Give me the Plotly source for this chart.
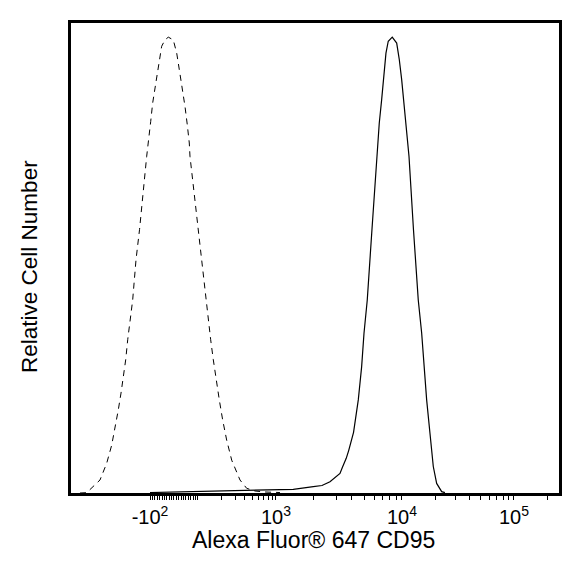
import numpy as np
import plotly.graph_objects as go

# Histogram data on a 0-1000 display-channel scale (biexponential display)
unstained_ch = [18.4, 32.2, 59.4, 73.1, 83.4, 90.2, 96.9, 102.5, 107.2, 112.1, 116.2, 120.9,
                126.4, 133.2, 140.4, 155.1, 158.4, 163.3, 167.4, 172.1, 177.6, 185.8, 192.6,
                199.4, 209.6, 216.6, 221.9, 228.9, 233.6, 238.3, 242.4, 243.8, 260.2, 276.0,
                281.3, 286.2, 291.6, 297.1, 303.9, 310.8, 319.0, 329.3, 346.3, 360.0, 377.0,
                397.5, 428.2]
unstained_count = [0.0, 0.07, 2.85, 6.5, 10.5, 14.2, 18.2, 21.9, 25.5, 29.2, 33.6, 37.9,
                   42.3, 51.1, 57.7, 73.8, 77.4, 81.4, 85.5, 88.8, 93.1, 97.9, 99.3,
                   99.9, 99.3, 96.4, 92.8, 88.4, 84.7, 80.7, 76.7, 73.8, 57.7, 42.3,
                   37.9, 33.6, 29.2, 24.8, 20.4, 16.0, 11.6, 7.2, 2.85, 1.03, 0.44,
                   0.22, 0.1]

cd95_ch = [161.9, 264.3, 366.8, 455.5, 496.5, 514.3, 530.7, 541.0, 551.2, 556.0, 564.0,
           569.0, 575.0, 579.0, 588.7, 595.6, 600.4, 607.1, 616.7, 627.6, 631.7, 636.6,
           641.3, 645.4, 650.1, 658.3, 667.4, 672.7, 677.6, 682.3, 687.8, 692.6, 701.8,
           711.6, 718.6, 723.3, 728.8, 735.6, 742.4, 749.3, 759.6, 766.3]
cd95_count = [0.1, 0.33, 0.48, 0.81, 1.38, 1.64, 2.48, 3.3, 4.3, 5.6, 7.6,
              9.3, 11.6, 13.3, 20.4, 27.7, 35.0, 42.3, 57.7, 75.2, 81.1, 86.2,
              91.3, 96.4, 99.0, 99.9, 98.6, 95.0, 90.6, 85.5, 79.6, 73.8, 57.7,
              42.3, 35.0, 27.7, 20.4, 13.1, 5.8, 2.1, 0.3, 0.07]

# Axis decades: fluorescence value, label, display channel
tick_values = [-100, 1000, 10000, 100000]
tick_text = ["-10<sup>2</sup>", "10<sup>3</sup>", "10<sup>4</sup>", "10<sup>5</sup>"]
tick_channel = [161.9, 420.0, 678.2, 907.7]
ch_plus100 = 260.2

# minor ticks
minor = []
minor += list(np.linspace(tick_channel[0], ch_plus100, 21))
for k in range(2, 10):
    minor.append(ch_plus100 + (tick_channel[1] - ch_plus100) * np.log10(k))
    minor.append(tick_channel[1] + (tick_channel[2] - tick_channel[1]) * np.log10(k))
    minor.append(tick_channel[2] + (tick_channel[3] - tick_channel[2]) * np.log10(k))
    m = tick_channel[3] + (tick_channel[3] - tick_channel[2]) * np.log10(k)
    if m < 1000:
        minor.append(m)
minor = sorted(v for v in minor if v not in tick_channel)

FONT = "Liberation Sans, Arial, sans-serif"

fig = go.Figure()
fig.add_trace(go.Scatter(x=unstained_ch, y=unstained_count, mode="lines",
                         line=dict(color="black", width=1, dash="6px,5px"),
                         showlegend=False, hoverinfo="skip"))
fig.add_trace(go.Scatter(x=cd95_ch, y=cd95_count, mode="lines",
                         line=dict(color="black", width=1.2),
                         showlegend=False, hoverinfo="skip"))

fig.update_layout(
    width=577, height=577,
    margin=dict(l=71, r=18, t=23, b=84),
    paper_bgcolor="white", plot_bgcolor="white",
    font=dict(family=FONT, color="black"),
    xaxis=dict(range=[0, 1000], showgrid=False, zeroline=False,
               showline=True, linecolor="black", linewidth=3, mirror=True,
               tickmode="array", tickvals=tick_channel, ticktext=tick_text,
               ticks="outside", ticklen=4, tickwidth=1, tickcolor="black",
               tickfont=dict(size=20, family=FONT, color="black"),
               minor=dict(tickmode="array", tickvals=minor, ticks="outside",
                          ticklen=4, tickwidth=1, tickcolor="black")),
    yaxis=dict(range=[0, 103], showgrid=False, zeroline=False,
               showline=True, linecolor="black", linewidth=3, mirror=True,
               showticklabels=False, ticks=""),
    annotations=[
        dict(text="Alexa Fluor® 647 CD95", xref="paper", yref="paper",
             x=0.497, y=-0.1, xanchor="center", yanchor="middle",
             showarrow=False, font=dict(size=23, family=FONT, color="black")),
        dict(text="Relative Cell Number", xref="paper", yref="paper",
             x=-0.084, y=0.481, xanchor="center", yanchor="middle", textangle=-90,
             showarrow=False, font=dict(size=22.5, family=FONT, color="black")),
    ],
)

fig.write_html("out.html")
